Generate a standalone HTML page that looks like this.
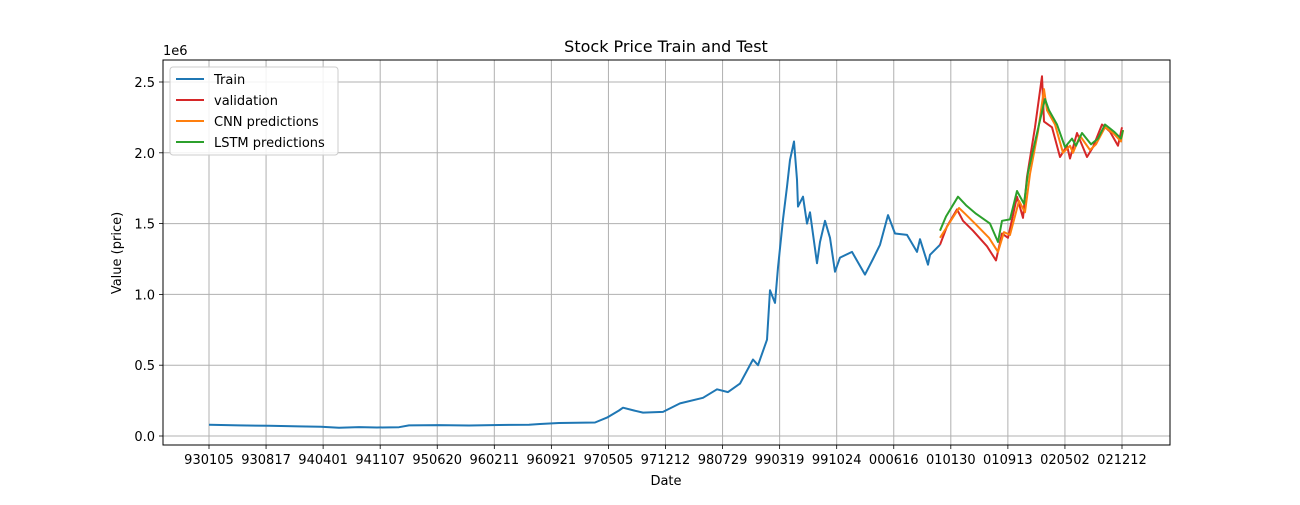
<!DOCTYPE html>
<html><head><meta charset="utf-8"><style>
body{margin:0;background:#fff;font-family:"Liberation Sans","DejaVu Sans",sans-serif;}
svg text{font-family:"DejaVu Sans","Liberation Sans",sans-serif;}
</style></head><body>
<svg id="chart" width="1300" height="500" xmlns="http://www.w3.org/2000/svg"></svg>
<script>
const xTickLabels=["930105","930817","940401","941107","950620","960211","960921","970505","971212","980729","990319","991024","000616","010130","010913","020502","021212"];
const yTickValues=[0,0.5,1.0,1.5,2.0,2.5];
const trainT=[0,30,60,90,112,130,150,168,190,200,230,260,290,320,331,350,386,398,410,414,425,434,454,471,494,508,519,531,544,549,558,561,566,569,574,578,581,585,588,589,594,598,601,608,611,616,621,626,631,643,656,664,671,679,686,698,708,711,719,721,731];
const trainV=[0.08,0.075,0.072,0.068,0.066,0.058,0.063,0.06,0.062,0.075,0.077,0.074,0.078,0.08,0.085,0.092,0.095,0.13,0.18,0.2,0.18,0.165,0.17,0.23,0.27,0.33,0.31,0.37,0.54,0.5,0.68,1.03,0.94,1.19,1.53,1.76,1.95,2.08,1.81,1.62,1.69,1.5,1.58,1.22,1.37,1.52,1.4,1.16,1.26,1.3,1.14,1.25,1.35,1.56,1.43,1.42,1.3,1.39,1.21,1.28,1.35];
const valT=[731,738,748,754,764,778,787,793,799,808,814,818,826,833,835,843,851,858,861,868,878,884,893,901,909,913];
const valV=[1.35,1.48,1.6,1.52,1.45,1.34,1.24,1.43,1.4,1.69,1.54,1.83,2.18,2.54,2.22,2.18,1.97,2.05,1.96,2.14,1.97,2.04,2.2,2.15,2.05,2.18];
const cnnT=[731,740,750,756,766,780,789,795,801,810,816,821,829,835,838,846,854,861,864,871,881,887,896,904,912,914];
const cnnV=[1.4,1.5,1.61,1.57,1.5,1.4,1.3,1.44,1.42,1.66,1.58,1.85,2.15,2.45,2.3,2.2,2.0,2.05,2.0,2.12,2.02,2.06,2.18,2.14,2.08,2.16];
const lstmT=[731,737,749,757,767,781,789,793,801,808,815,819,830,836,840,848,856,863,867,873,882,889,896,905,912,914];
const lstmV=[1.45,1.55,1.69,1.63,1.57,1.5,1.37,1.52,1.53,1.73,1.64,1.86,2.2,2.38,2.3,2.2,2.04,2.1,2.05,2.14,2.06,2.1,2.2,2.15,2.1,2.16];

const NS="http://www.w3.org/2000/svg";
const svg=document.getElementById('chart');
const L=163,R=1170,T=60,B=445;
const xS=t=>209+t;
const yS=v=>436-v*141.6;
function mk(tag,attrs,parent){const e=document.createElementNS(NS,tag);for(const k in attrs)e.setAttribute(k,attrs[k]);(parent||svg).appendChild(e);return e;}

const title=mk('text',{x:666,y:52,'text-anchor':'middle','font-size':16,fill:'#000'});


title.textContent='Stock Price Train and Test';

// grid + ticks
xTickLabels.forEach((lab,i)=>{
  const x=xS(i*913/16);
  const g=mk('line',{x1:x,x2:x,y1:T,y2:B,stroke:'#b0b0b0','stroke-width':1});
  
  
  mk('line',{x1:x,x2:x,y1:B,y2:B+4,stroke:'#000','stroke-width':0.8});
  const t=mk('text',{x:x,y:B+19,'text-anchor':'middle','font-size':13,fill:'#000'});
  
  
  t.textContent=lab;
});
yTickValues.forEach(v=>{
  const y=yS(v);
  const g=mk('line',{x1:L,x2:R,y1:y,y2:y,stroke:'#b0b0b0','stroke-width':1});
  
  
  mk('line',{x1:L-4,x2:L,y1:y,y2:y,stroke:'#000','stroke-width':0.8});
  const t=mk('text',{x:L-8,y:y+5,'text-anchor':'end','font-size':13,fill:'#000'});
  
  
  t.textContent=v.toFixed(1);
});
const off=mk('text',{x:163,y:55,'font-size':13,fill:'#000'});


off.textContent='1e6';

function series(ts,vs,color,name){
  const d=ts.map((t,i)=>(i?'L':'M')+xS(t).toFixed(1)+','+yS(vs[i]).toFixed(1)).join(' ');
  const p=mk('path',{d:d,fill:'none',stroke:color,'stroke-width':2,'stroke-linejoin':'round'});
  
  
}
series(trainT,trainV,'#1f77b4','train-line');
series(valT,valV,'#d62728','validation-line');
series(cnnT,cnnV,'#ff7f0e','cnn-predictions-line');
series(lstmT,lstmV,'#2ca02c','lstm-predictions-line');

const frame=mk('rect',{x:L,y:T,width:R-L,height:B-T,fill:'none',stroke:'#000','stroke-width':1});



const xl=mk('text',{x:666,y:485,'text-anchor':'middle','font-size':13,fill:'#000'});


xl.textContent='Date';
const yl=mk('text',{x:121,y:253,'text-anchor':'middle','font-size':13,fill:'#000',transform:'rotate(-90 121 253)'});


yl.textContent='Value (price)';

// legend
const lg=mk('g',{});


mk('rect',{x:170,y:67,width:168,height:88,rx:3,fill:'#fff','fill-opacity':0.85,stroke:'#ccc'},lg);
const legNames=['Train','validation','CNN predictions','LSTM predictions'];
const legColors=['#1f77b4','#d62728','#ff7f0e','#2ca02c'];
legNames.forEach((n,i)=>{
  const y=79+i*21;
  const e=mk('g',{},lg);
  
  
  mk('line',{x1:176,x2:204,y1:y,y2:y,stroke:legColors[i],'stroke-width':2},e);
  const t=mk('text',{x:214,y:y+5,'font-size':13,fill:'#000'},e);
  t.textContent=n;
});
</script>
</body></html>
